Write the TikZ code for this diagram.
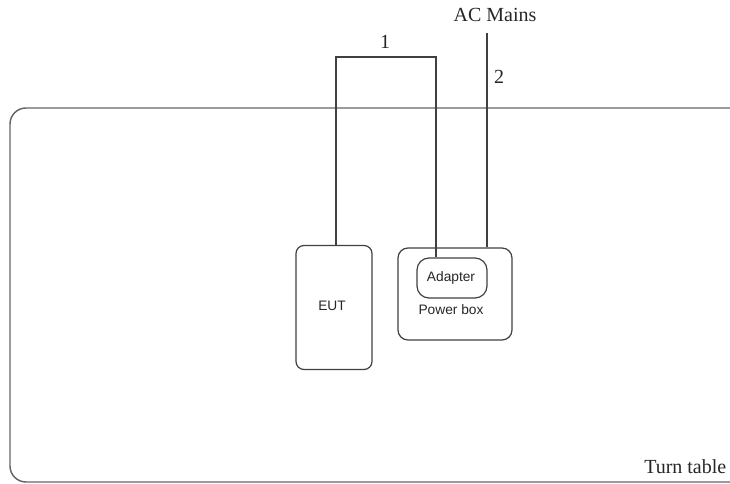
\documentclass[tikz,border=0pt]{standalone}
\usepackage{fontspec}
\setmainfont{Liberation Serif}
\setsansfont{Liberation Sans}
\usepackage{tikz}

\begin{document}
\begin{tikzpicture}[
    x=0.75pt, y=-0.75pt,
    box/.style={draw=black!75, line width=0.9pt, rounded corners=6pt, inner sep=0pt},
    cable/.style={draw=black!75, line width=0.9pt},
    sflabel/.style={font=\sffamily\fontsize{10.3}{12}\selectfont, text=black!85},
    rmlabel/.style={font=\fontsize{15}{18}\selectfont, text=black!85}
  ]
  \useasboundingbox (0,0) rectangle (730,484);

  % --- Turn table ---
  \draw[draw=black!60, line width=1.1pt, rounded corners=12pt] (10,108) rectangle (770,482);
  \node[rmlabel, anchor=east] (tt) at (731,467) {Turn table};

  % --- Equipment ---
  \node[box, minimum width=57pt, minimum height=93pt] (eut) at (334,307.5) {};
  \node[sflabel] (eutlabel) at (332,306) {EUT};
  \node[box, rounded corners=7.5pt, minimum width=85.5pt, minimum height=69pt] (pbox) at (455,294) {};
  \node[box, rounded corners=9pt, minimum width=52.5pt, minimum height=30pt] (adapter) at (452,278) {};
  \node[sflabel] (adlabel) at (451,278) {Adapter};
  \node[sflabel] (pblabel) at (451,310) {Power box};

  % --- Cables ---
  \coordinate (c1) at (386,57);
  \coordinate (mains) at (487,33);
  \node[rmlabel] (acmains) at (495,15) {AC Mains};

  % cable 1: EUT -- adapter
  \draw[cable] (eut.north -| 336,0) |- (c1) -| ([xshift=-12pt]adapter.north);
  \node[rmlabel] (n1) at (385,42) {1};
  % cable 2: mains -- power box
  \draw[cable] (mains) -- (mains |- pbox.north);
  \node[rmlabel] (n2) at (499,77) {2};
\end{tikzpicture}
\end{document}
